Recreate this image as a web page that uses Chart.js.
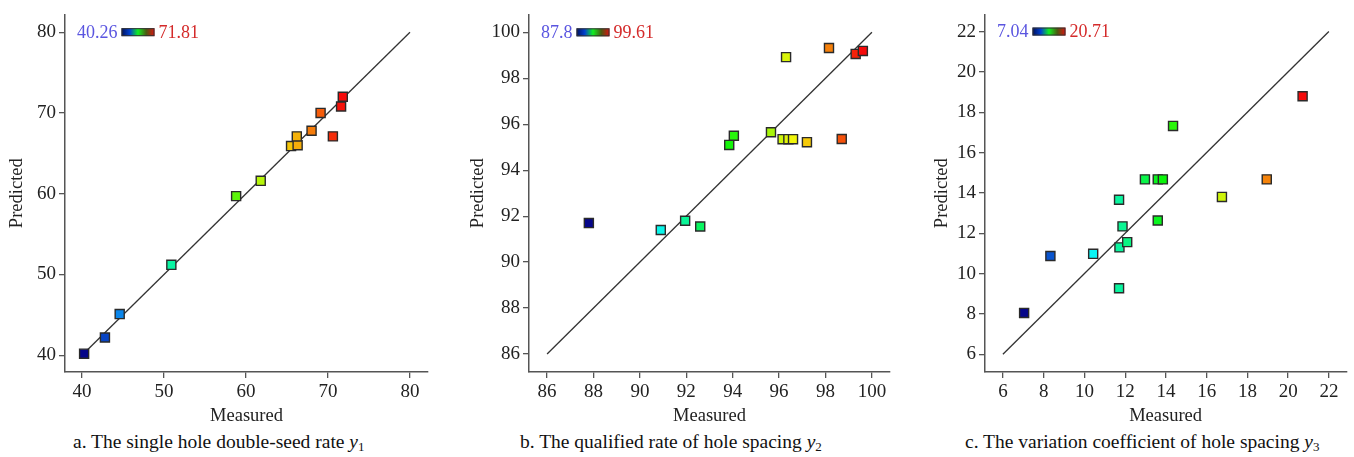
<!DOCTYPE html>
<html>
<head>
<meta charset="utf-8">
<script src="https://cdn.jsdelivr.net/npm/chart.js@4.4.1/dist/chart.umd.min.js"></script>
<style>
  body { margin: 0; background: #fff; width: 1354px; height: 457px; position: relative; overflow: hidden; }
  canvas { position: absolute; top: 0; }
  .cap { position: absolute; top: 431px; font-family: "Liberation Serif", "Times New Roman", serif; font-size: 19.5px; color: #111; white-space: nowrap; }
  .cap sub { font-size: 13px; vertical-align: -3px; }
</style>
</head>
<body>
<canvas id="ca" width="450" height="430" style="left:0px"></canvas>
<canvas id="cb" width="450" height="430" style="left:455px"></canvas>
<canvas id="cc" width="444" height="430" style="left:910px"></canvas>
<div class="cap" style="left:73px">a. The single hole double-seed rate <i>y</i><sub>1</sub></div>
<div class="cap" style="left:520px">b. The qualified rate of hole spacing <i>y</i><sub>2</sub></div>
<div class="cap" style="left:965px">c. The variation coefficient of hole spacing <i>y</i><sub>3</sub></div>
<script>
// panel a - single hole double-seed rate
const measuredA  = [40.26, 42.8, 44.6, 50.9, 58.8, 61.8, 65.5, 66.3, 66.2, 68.0, 69.1, 70.6, 71.6, 71.81];
const predictedA = [40.2, 42.2, 45.1, 51.2, 59.7, 61.6, 65.9, 66.0, 67.1, 67.8, 70.0, 67.1, 70.8, 72.0];
const ticksA = [40, 50, 60, 70, 80];
const boundsA = [37.93, 82.2];
const rangeA = [40.26, 71.81];

// panel b - qualified rate of hole spacing
const measuredB  = [87.8, 90.9, 91.95, 92.6, 93.85, 94.05, 95.65, 96.15, 96.4, 96.6, 97.2, 96.3, 98.15, 98.7, 99.3, 99.61];
const predictedB = [91.7, 91.4, 91.8, 91.55, 95.1, 95.5, 95.65, 95.35, 95.35, 95.35, 95.22, 98.92, 99.32, 95.36, 99.06, 99.19];
const ticksB = [86, 88, 90, 92, 94, 96, 98, 100];
const boundsB = [85.22, 100.78];
const rangeB = [87.8, 99.61];

// panel c - variation coefficient of hole spacing
const measuredC  = [7.04, 8.33, 10.43, 11.7, 11.72, 11.87, 12.1, 11.7, 13.6, 12.97, 13.6, 13.85, 14.35, 16.75, 18.95, 20.71];
const predictedC = [8.05, 10.87, 10.98, 9.27, 11.3, 12.34, 11.56, 13.66, 12.63, 14.67, 14.67, 14.67, 17.32, 13.8, 14.67, 18.79];
const ticksC = [6, 8, 10, 12, 14, 16, 18, 20, 22];
const boundsC = [5.12, 22.85];
const rangeC = [7.04, 20.71];

const FONT = '"Liberation Serif", "Times New Roman", serif';

function colorFor(v, range) {
    let t = (v - range[0]) / (range[1] - range[0]);
    t = Math.max(0, Math.min(1, t));
    const hue = 240 * (1 - t);
    const light = 28 + 22 * Math.min(t / 0.15, 1);
    return 'hsl(' + hue.toFixed(0) + ',92%,' + light.toFixed(0) + '%)';
}

// colour bar with min / max labels in the top left corner
const colorBar = {
    id: 'colorBar',
    afterDraw(chart, args, opts) {
        const ctx = chart.ctx;
        const y = chart.scales.y.getPixelForValue(opts.top);
        let x = chart.chartArea.left + 12;
        ctx.save();
        ctx.font = '18px ' + FONT;
        ctx.textBaseline = 'middle';
        ctx.fillStyle = '#5a55e0';
        const lo = String(opts.range[0]);
        ctx.fillText(lo, x, y + 1);
        x += ctx.measureText(lo).width + 4;
        const g = ctx.createLinearGradient(x, 0, x + 33, 0);
        g.addColorStop(0, '#00105a');
        g.addColorStop(0.25, '#0040d0');
        g.addColorStop(0.5, '#10f020');
        g.addColorStop(0.75, '#4a5a10');
        g.addColorStop(1, '#e01010');
        ctx.fillStyle = g;
        ctx.fillRect(x, y - 4, 33, 8);
        ctx.strokeStyle = '#333';
        ctx.lineWidth = 1;
        ctx.strokeRect(x + 0.5, y - 3.5, 32, 7);
        x += 37;
        ctx.fillStyle = '#d42a2a';
        ctx.fillText(String(opts.range[1]), x, y + 1);
        ctx.restore();
    }
};

function axis(bounds, ticks, title, size, titlePad, isX) {
    return {
        type: 'linear',
        min: bounds[0],
        max: bounds[1],
        afterBuildTicks: function(s) { s.ticks = ticks.map(function(v) { return { value: v }; }); },
        afterFit: function(s) { if (isX) s.height = size; else s.width = size; },
        border: { display: true, color: '#555', width: 1.5 },
        grid: { drawOnChartArea: false, drawTicks: true, tickLength: 6, color: '#555', lineWidth: 1.3 },
        ticks: { color: '#222', padding: 3, font: { family: FONT, size: 19 }, autoSkip: false, maxRotation: 0 },
        title: { display: true, text: title, color: '#222', font: { family: FONT, size: 18.5 }, padding: titlePad }
    };
}

function makeChart(id, measured, predicted, ticks, bounds, range, yWidth, rightPad, yTitlePad) {
    const pts = measured.map(function(m, i) { return { x: m, y: predicted[i] }; });
    const fills = measured.map(function(m) { return colorFor(m, range); });
    const lo = ticks[0], hi = ticks[ticks.length - 1];
    return new Chart(document.getElementById(id), {
        type: 'scatter',
        data: {
            datasets: [
                {
                    data: pts,
                    pointStyle: 'rect',
                    pointRadius: 6.4,
                    backgroundColor: fills,
                    borderColor: '#2a2a2a',
                    borderWidth: 1.4,
                    order: 1
                },
                {
                    type: 'line',
                    data: [{ x: lo, y: lo }, { x: hi, y: hi }],
                    borderColor: '#333',
                    borderWidth: 1.3,
                    pointRadius: 0,
                    fill: false,
                    order: 2
                }
            ]
        },
        options: {
            responsive: false,
            animation: false,
            layout: { padding: { top: 9, right: rightPad, bottom: 0, left: 0 } },
            plugins: {
                legend: { display: false },
                tooltip: { enabled: false },
                colorBar: { range: range, top: hi }
            },
            scales: {
                x: axis(bounds, ticks, 'Measured', 58, { top: 0, bottom: 3 }, true),
                y: axis(bounds, ticks, 'Predicted', yWidth, { top: yTitlePad, bottom: 0 }, false)
            }
        },
        plugins: [colorBar]
    });
}

makeChart('ca', measuredA, predictedA, ticksA, boundsA, rangeA, 65, 22, 6);
makeChart('cb', measuredB, predictedB, ticksB, boundsB, rangeB, 74, 15, 12);
makeChart('cc', measuredC, predictedC, ticksC, boundsC, rangeC, 75, 6, 21);
</script>
</body>
</html>
